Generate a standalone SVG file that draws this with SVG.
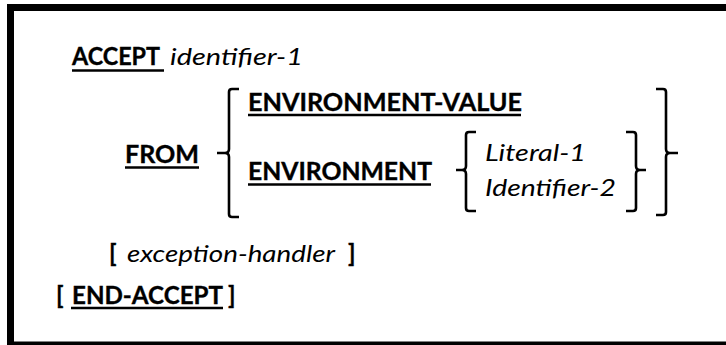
<svg xmlns="http://www.w3.org/2000/svg" width="726" height="345" viewBox="0 0 726 345">
<style>
  text { font-family: Lato, "Liberation Sans", sans-serif; font-size: 24px; fill: #000; }
  .kw { font-weight: bold; stroke: #000; stroke-width: 0.35; }
  .it { font-style: italic; }
  .ul { stroke: #000; stroke-width: 2.5; }
  .brace { fill: none; stroke: #000; stroke-width: 2.6; stroke-linejoin: round; stroke-linecap: butt; }
</style>
<rect x="0" y="0" width="726" height="345" fill="#fff"/>
<rect id="frame" x="10.5" y="7.5" width="730" height="337.5" fill="none" stroke="#000" stroke-width="7"/>

<g id="accept">
  <text class="kw" x="72" y="65" textLength="88" lengthAdjust="spacingAndGlyphs">ACCEPT</text>
  <line class="ul" x1="72" y1="70.5" x2="164" y2="70.5"/>
  <text class="it" x="170" y="65" textLength="133" lengthAdjust="spacingAndGlyphs">identifier-1</text>
</g>

<g id="from">
  <text class="kw" x="125" y="163" textLength="74" lengthAdjust="spacingAndGlyphs">FROM</text>
  <line class="ul" x1="125" y1="167.5" x2="199" y2="167.5"/>
</g>

<g id="env-value">
  <text class="kw" x="248" y="111" textLength="274" lengthAdjust="spacingAndGlyphs">ENVIRONMENT-VALUE</text>
  <line class="ul" x1="248" y1="115" x2="521" y2="115"/>
</g>

<g id="environment">
  <text class="kw" x="248" y="180" textLength="184" lengthAdjust="spacingAndGlyphs">ENVIRONMENT</text>
  <line class="ul" x1="248" y1="184.5" x2="431" y2="184.5"/>
</g>

<g id="literal-1">
  <text class="it" x="485" y="161" textLength="101" lengthAdjust="spacingAndGlyphs">Literal-1</text>
</g>

<g id="identifier-2">
  <text class="it" x="485" y="196" textLength="131" lengthAdjust="spacingAndGlyphs">Identifier-2</text>
</g>

<g id="exception-handler">
  <text class="kw" x="109" y="262">[</text>
  <text class="it" x="127" y="262" textLength="208" lengthAdjust="spacingAndGlyphs">exception-handler</text>
  <text class="kw" x="348" y="262">]</text>
</g>

<g id="end-accept">
  <text class="kw" x="56" y="304">[</text>
  <text class="kw" x="72" y="304" textLength="151" lengthAdjust="spacingAndGlyphs">END-ACCEPT</text>
  <line class="ul" x1="71" y1="308" x2="223" y2="308"/>
  <text class="kw" x="228" y="304">]</text>
</g>

<g id="braces">
  <path class="brace" d="M239,89 H232 Q229,89 229,92 V149 Q229,153 225,153 H217 M225,153 Q229,153 229,157 V214 Q229,217 232,217 H239"/>
  <path class="brace" d="M656,89 H663 Q666,89 666,92 V149 Q666,153 670,153 H678 M670,153 Q666,153 666,157 V212 Q666,215 663,215 H656"/>
  <path class="brace" d="M476,132 H469 Q466,132 466,135 V166 Q466,170 462,170 H456 M462,170 Q466,170 466,174 V208 Q466,211 469,211 H476"/>
  <path class="brace" d="M626,132 H633 Q636,132 636,135 V166 Q636,170 640,170 H646 M640,170 Q636,170 636,174 V208 Q636,211 633,211 H626"/>
</g>
</svg>
